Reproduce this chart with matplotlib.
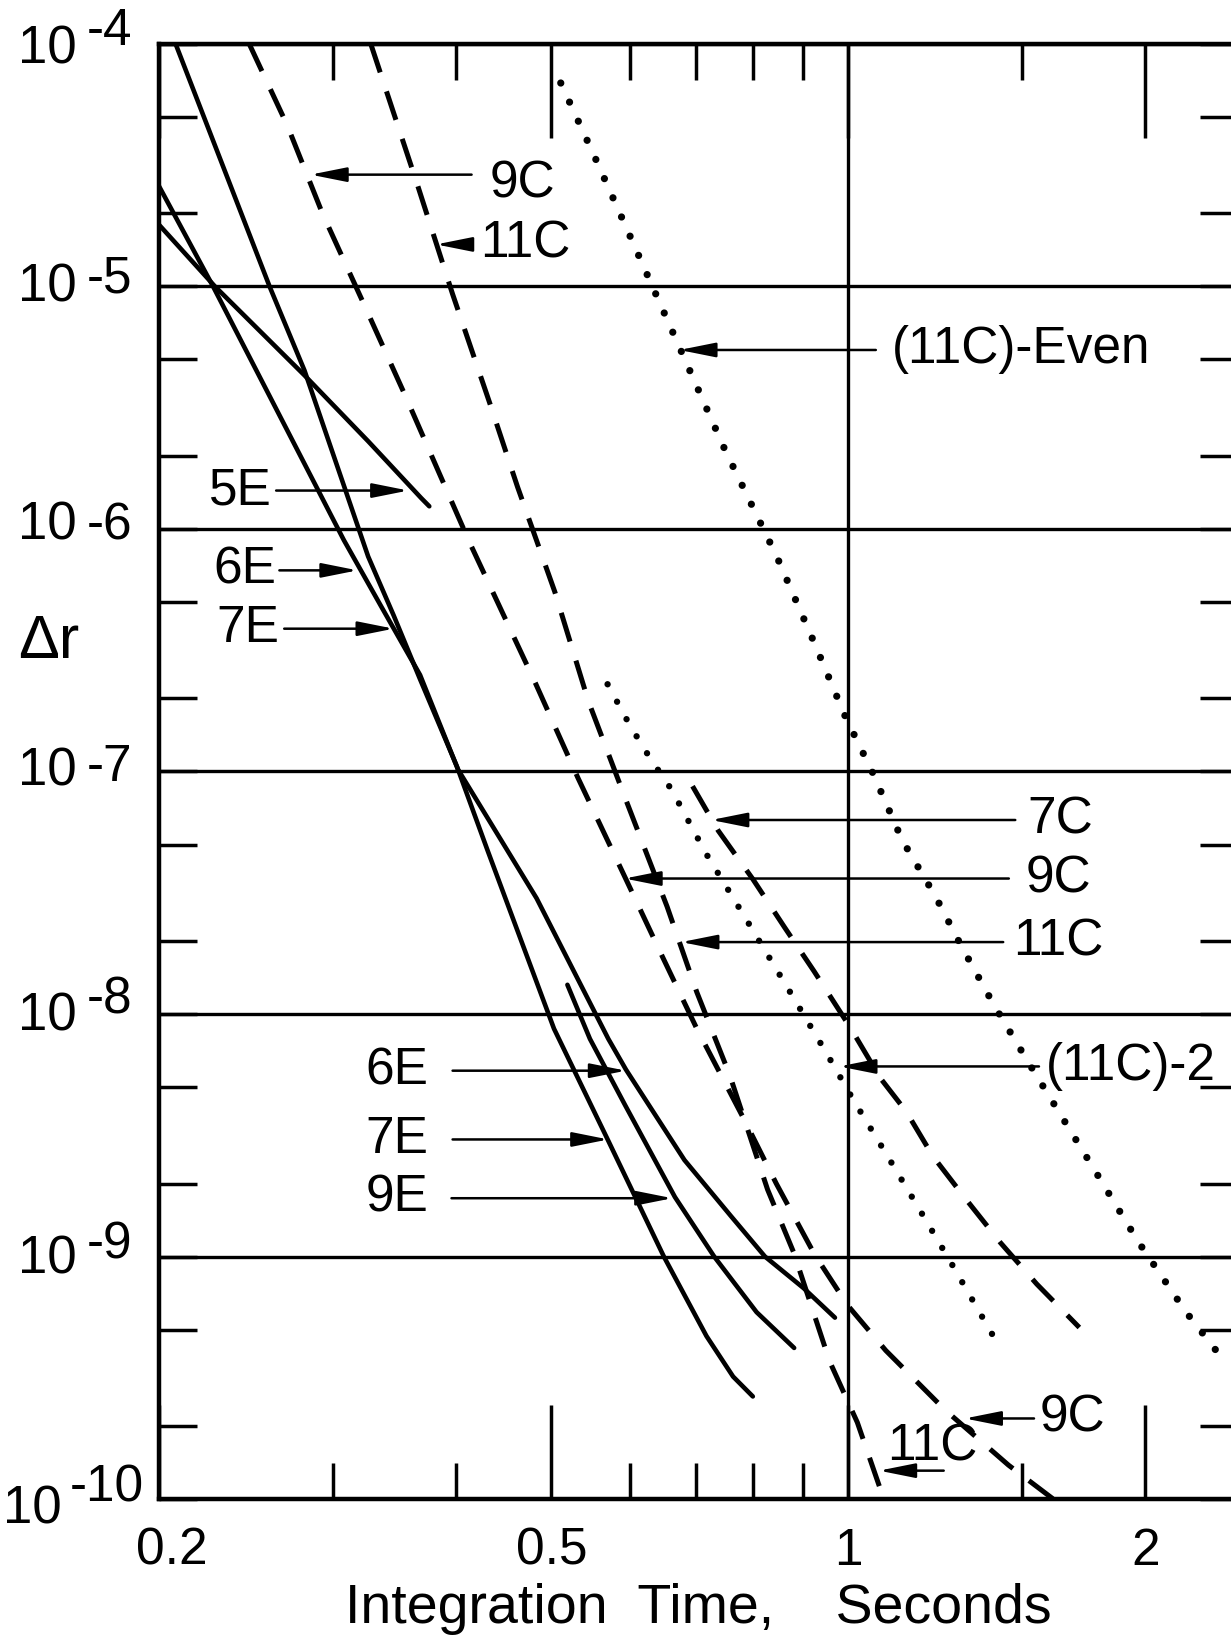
import matplotlib
matplotlib.use('Agg')
import matplotlib.pyplot as plt
from matplotlib import font_manager
from matplotlib.transforms import ScaledTranslation
from matplotlib.ticker import FixedLocator, FixedFormatter, LogLocator, NullFormatter

# the lettering in the original is narrow, use a condensed face when there is one
installed = {f.name for f in font_manager.fontManager.ttflist}
font = 'DejaVu Sans'
for name in ['Liberation Sans Narrow', 'DejaVu Sans Condensed', 'Liberation Sans']:
    if name in installed:
        font = name
        break
plt.rcParams['font.family'] = [font, 'DejaVu Sans']

# ---- data (integration time [s], delta r) ----
# solid curves
e5_t = [0.200, 0.228, 0.281, 0.326, 0.369, 0.376]
e5_r = [1.8e-5, 1.0e-5, 4.3e-6, 2.3e-6, 1.34e-6, 1.24e-6]

e6_t = [0.200, 0.227, 0.308, 0.336, 0.368, 0.402, 0.483, 0.571, 0.595, 0.682, 0.760, 0.823, 0.901, 0.969]
e6_r = [2.6e-5, 1.0e-5, 9.0e-7, 4.8e-7, 2.5e-7, 1.02e-7, 3.0e-8, 7.9e-9, 5.9e-9, 2.5e-9, 1.47e-9, 1.0e-9, 7.4e-10, 5.6e-10]

e7_t = [0.208, 0.259, 0.281, 0.326, 0.346, 0.368, 0.401, 0.431, 0.503, 0.571, 0.650, 0.718, 0.764, 0.800]
e7_r = [1.0e-4, 1.0e-5, 4.5e-6, 7.7e-7, 4.4e-7, 2.4e-7, 1.05e-7, 4.7e-8, 8.7e-9, 3.0e-9, 1.0e-9, 4.7e-10, 3.2e-10, 2.65e-10]

e9_t = [0.519, 0.547, 0.594, 0.667, 0.731, 0.807, 0.881]
e9_r = [1.32e-8, 7.9e-9, 4.2e-9, 1.76e-9, 1.0e-9, 5.9e-10, 4.2e-10]

# dashed curves
c7_t = [0.695, 0.738, 0.800, 0.862, 0.923, 1.006, 1.077, 1.144, 1.218, 1.313, 1.426, 1.552, 1.714]
c7_r = [8.7e-8, 5.7e-8, 3.6e-8, 2.27e-8, 1.5e-8, 8.7e-9, 5.45e-9, 3.97e-9, 2.59e-9, 1.74e-9, 1.14e-9, 7.7e-10, 5.1e-10]

c9_t = [0.247, 0.270, 0.293, 0.323, 0.356, 0.412, 0.482, 0.532, 0.593, 0.648, 0.702, 0.786, 0.845,
        0.924, 0.998, 1.091, 1.253, 1.453, 1.613]
c9_r = [1.0e-4, 4.6e-5, 2.0e-5, 8.4e-6, 3.5e-6, 9.0e-7, 2.3e-7, 9.4e-8, 3.7e-8, 1.72e-8, 8.7e-9, 3.6e-9, 2.0e-9,
        1.02e-9, 6.3e-10, 4.1e-10, 2.33e-10, 1.38e-10, 1.0e-10]

c11_t = [0.328, 0.366, 0.397, 0.433, 0.462, 0.504, 0.545, 0.593, 0.655, 0.702, 0.758, 0.828, 0.880, 0.957, 1.021, 1.086]
c11_r = [1.0e-4, 2.6e-5, 9.3e-6, 3.3e-6, 1.49e-6, 5.5e-7, 1.95e-7, 7.9e-8, 2.77e-8, 1.23e-8, 5.6e-9, 1.89e-9,
         1.04e-9, 3.7e-10, 2.07e-10, 1.0e-10]

# dotted curves
c11_2_t = [0.570, 0.601, 0.629, 0.662, 0.717, 0.790, 0.874, 0.951, 1.013, 1.099, 1.191, 1.277, 1.400]
c11_2_r = [2.29e-7, 1.54e-7, 1.14e-7, 8.4e-8, 4.6e-8, 2.41e-8, 1.22e-8, 6.85e-9, 4.38e-9, 2.54e-9, 1.47e-9, 9.1e-10, 4.75e-10]

c11_even_t = [0.511, 0.553, 0.598, 0.673, 0.750, 0.846, 0.924, 0.993, 1.058, 1.134, 1.225, 1.302, 1.406, 1.519,
              1.773, 1.967, 2.199, 2.393]
c11_even_r = [6.9e-5, 3.43e-5, 1.68e-5, 5.7e-6, 2.11e-6, 7.7e-7, 3.37e-7, 1.68e-7, 9.9e-8, 5.2e-8, 3.06e-8, 1.9e-8,
              1.08e-8, 6.4e-9, 2.3e-9, 1.15e-9, 5.9e-10, 3.8e-10]

# curve labels: text, where the text starts, and the arrow (tail -> tip) at height arrow_r
label_text = ['9C', '11C', '(11C)-Even', '5E', '6E', '7E', '7C', '9C', '11C', '(11C)-2', '6E', '7E', '9E', '9C', '11C']
label_t = [0.433, 0.423, 1.106, 0.225, 0.227, 0.229, 1.520, 1.512, 1.467, 1.587, 0.324, 0.324, 0.324, 1.561, 1.094]
label_r = [2.65e-5, 1.49e-5, 5.47e-6, 1.44e-6, 6.75e-7, 3.88e-7, 6.3e-8, 3.62e-8, 1.98e-8, 6.08e-9, 5.84e-9,
           3.04e-9, 1.74e-9, 2.15e-10, 1.64e-10]
tail_t = [0.415, 0.414, 1.066, 0.263, 0.265, 0.268, 1.476, 1.454, 1.435, 1.560, 0.397, 0.397, 0.396, 1.542, 1.249]
tip_t = [0.285, 0.382, 0.674, 0.358, 0.318, 0.346, 0.726, 0.593, 0.677, 0.979, 0.595, 0.571, 0.663, 1.312, 1.074]
arrow_r = [2.89e-5, 1.49e-5, 5.47e-6, 1.44e-6, 6.75e-7, 3.88e-7, 6.31e-8, 3.62e-8, 1.98e-8, 6.08e-9, 5.84e-9,
           3.04e-9, 1.74e-9, 2.15e-10, 1.31e-10]

decades = [-4, -5, -6, -7, -8, -9, -10]
x_ticks = [0.2, 0.5, 1, 2]
x_ticklabels = ['0.2', '0.5', '1', '2']
x_minor = [0.3, 0.4, 0.6, 0.7, 0.8, 0.9, 1.5]

# ---- figure ----
fig = plt.figure(figsize=(12.31, 16.38), dpi=100)
ax = fig.add_axes([0.129, 0.0848, 0.8761, 0.8884])
ax.set_xscale('log')
ax.set_yscale('log')
ax.set_xlim(0.2, 2.478)
ax.set_ylim(1e-10, 1e-4)

solid = dict(color='black', lw=3.3, solid_capstyle='round')
dashed = dict(color='black', lw=3.6, dashes=(6.0, 4.0), dash_capstyle='butt')
dotted = dict(color='black', dash_capstyle='round')

ax.plot(e5_t, e5_r, **solid)
ax.plot(e6_t, e6_r, **solid)
ax.plot(e7_t, e7_r, **solid)
ax.plot(e9_t, e9_r, **solid)
ax.plot(c7_t, c7_r, **dashed)
ax.plot(c9_t, c9_r, **dashed)
ax.plot(c11_t, c11_r, **dashed)
ax.plot(c11_2_t, c11_2_r, lw=4.6, dashes=(0.01, 3.1), **dotted)
ax.plot(c11_even_t, c11_even_r, lw=5.2, dashes=(0.01, 2.9), **dotted)

# grid: horizontal line at each decade, one vertical line at 1 s
ax.yaxis.grid(True, which='major', color='black', lw=2.4)
ax.axvline(1.0, color='black', lw=2.4)

for s, tx, ty, a0, a1, ay in zip(label_text, label_t, label_r, tail_t, tip_t, arrow_r):
    ax.annotate('', xy=(a1, ay), xytext=(a0, ay),
                arrowprops=dict(arrowstyle='-|>,head_length=1.1,head_width=0.22', color='black',
                                lw=1.8, shrinkA=0, shrinkB=0, mutation_scale=20))
    ax.text(tx, ty, s, ha='left', va='center', fontsize=37)

# ticks
ax.xaxis.set_major_locator(FixedLocator(x_ticks))
ax.xaxis.set_major_formatter(FixedFormatter(x_ticklabels))
ax.xaxis.set_minor_locator(FixedLocator(x_minor))
ax.xaxis.set_minor_formatter(NullFormatter())
ax.yaxis.set_major_locator(LogLocator(base=10, numticks=12))
ax.yaxis.set_minor_locator(LogLocator(base=10, subs=(2.0, 5.0), numticks=12))
ax.yaxis.set_major_formatter(NullFormatter())
ax.yaxis.set_minor_formatter(NullFormatter())
ax.tick_params(which='both', direction='in', top=True, right=True, width=2.5, color='black')
ax.tick_params(axis='x', which='major', length=68, pad=20, labelsize=37)
ax.tick_params(axis='x', which='minor', length=26)
ax.tick_params(axis='y', which='both', length=27, labelleft=False)

# the "0.2" sits a little right of its tick in the original
first = ax.xaxis.get_major_ticks()[0].label1
first.set_transform(first.get_transform() + ScaledTranslation(0.13, 0, fig.dpi_scale_trans))

for sp in ax.spines.values():
    sp.set_linewidth(3.2)

# y labels drawn by hand: "10" with the exponent set at full size beside it
# offsets in points from the left spine
ten_x = [-59, -59, -59, -59, -59, -59, -70]
exp_x = [-52, -52, -52, -52, -52, -52, -64]
ten_dy = [-3.8, -0.8, 2.3, 0.0, -1.5, -2.3, -7.5]
exp_dy = [9.0, 5.3, 2.3, 3.0, 10.0, 8.0, 8.0]
for e, tx, ex, d10, dex in zip(decades, ten_x, exp_x, ten_dy, exp_dy):
    ax.annotate('10', xy=(0, 10.0 ** e), xycoords=('axes fraction', 'data'), xytext=(tx, d10),
                textcoords='offset points', ha='right', va='center', fontsize=38, annotation_clip=False)
    ax.annotate('-%d' % (-e), xy=(0, 10.0 ** e), xycoords=('axes fraction', 'data'), xytext=(ex, dex),
                textcoords='offset points', ha='left', va='center', fontsize=37, annotation_clip=False)

ax.set_xlabel('Integration  Time,    Seconds', fontsize=40, labelpad=5)
fig.text(0.040, 0.608, '\u0394r', fontsize=44, ha='center', va='center')

fig.savefig('out.png', dpi=100)
